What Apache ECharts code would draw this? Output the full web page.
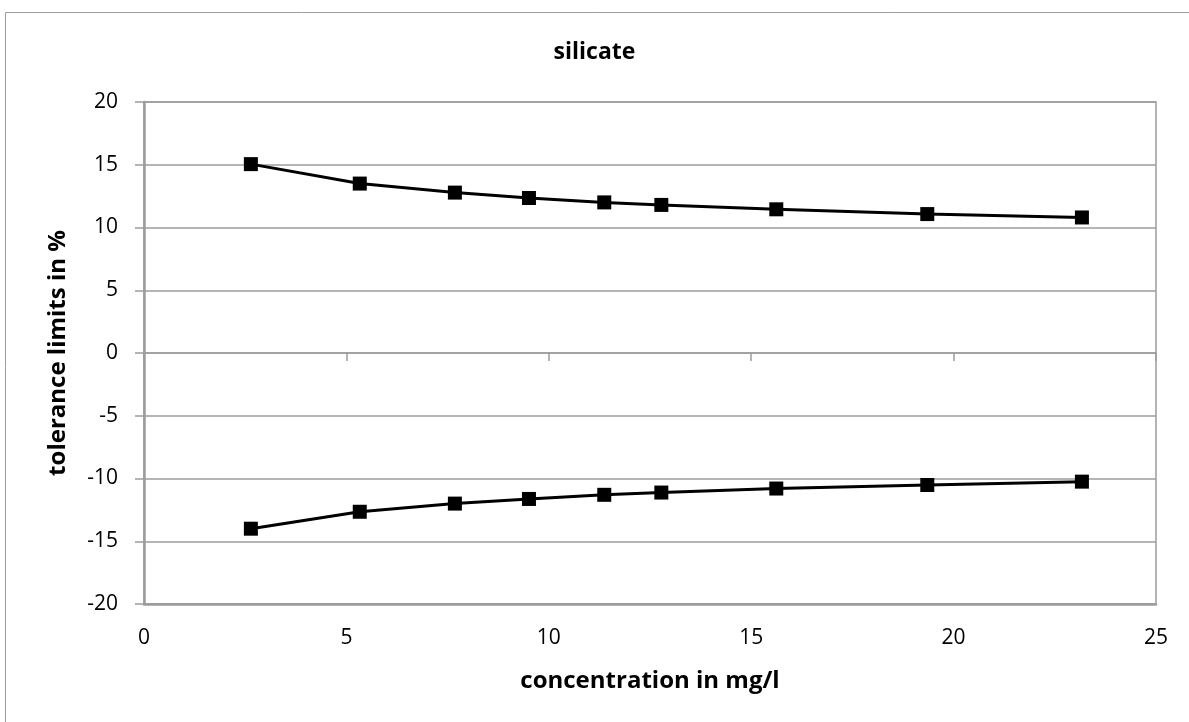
<!DOCTYPE html>
<html>
<head>
<meta charset="utf-8">
<script src="https://cdn.jsdelivr.net/npm/echarts@6/dist/echarts.min.js"></script>
<style>
html,body{margin:0;padding:0;background:#fff;}
#chart{width:1189px;height:722px;}
</style>
</head>
<body>
<div id="chart"></div>
<script>
// concentration (mg/l) and tolerance limits (%)
const conc = [2.64, 5.33, 7.68, 9.51, 11.37, 12.78, 15.62, 19.35, 23.17];
const upper = [15.05, 13.5, 12.78, 12.35, 12.0, 11.8, 11.45, 11.07, 10.8];
const lower = [-14.0, -12.65, -12.0, -11.63, -11.3, -11.12, -10.8, -10.52, -10.25];

const font = '"Open Sans", "Noto Sans", sans-serif';
const gray = '#9c9c9c';

const chart = echarts.init(document.getElementById('chart'));

function pairs(ys) {
  return conc.map(function (x, i) { return [x, ys[i]]; });
}

const option = {
  animation: false,
  backgroundColor: '#fff',
  title: {
    text: 'silicate',
    left: 'center', top: 36,
    textStyle: {fontFamily: font, fontSize: 23, fontWeight: 'bold', color: '#000'}
  },
  graphic: [{
    type: 'rect',
    shape: {x: 5.5, y: 12.5, width: 1200, height: 800},
    style: {fill: 'none', stroke: gray, lineWidth: 1},
    silent: true
  }],
  grid: {
    left: 144, top: 102, right: 33, bottom: 118,
    show: true, borderColor: gray, borderWidth: 1.5
  },
  xAxis: [{
    type: 'value', min: 0, max: 25, interval: 5,
    position: 'bottom',
    name: 'concentration in mg/l',
    nameLocation: 'middle', nameGap: 65,
    nameTextStyle: {fontFamily: font, fontSize: 24, fontWeight: 'bold', color: '#000'},
    axisLine: {onZero: false, lineStyle: {color: gray, width: 2.5}},
    axisTick: {show: false},
    axisLabel: {margin: 24, fontFamily: font, fontSize: 21, color: '#000'},
    splitLine: {show: false}
  }, {
    type: 'value', min: 0, max: 25, interval: 5,
    position: 'bottom',
    axisLine: {onZero: true, lineStyle: {color: gray, width: 1.5}},
    axisTick: {show: true, inside: false, length: 8, lineStyle: {color: gray, width: 1.5}},
    axisLabel: {show: false},
    splitLine: {show: false}
  }],
  yAxis: {
    type: 'value', min: -20, max: 20, interval: 5,
    name: 'tolerance limits in %',
    nameLocation: 'middle', nameGap: 74, nameRotate: 90,
    nameTextStyle: {fontFamily: font, fontSize: 24, fontWeight: 'bold', color: '#000'},
    axisLine: {show: true, lineStyle: {color: gray, width: 2.5}},
    axisTick: {show: true, length: 9, lineStyle: {color: gray, width: 1.5}},
    axisLabel: {margin: 26, fontFamily: font, fontSize: 21, color: '#000'},
    splitLine: {show: true, lineStyle: {color: gray, width: 1.5}}
  },
  series: [{
    name: 'upper', type: 'line', xAxisIndex: 0,
    data: pairs(upper),
    symbol: 'rect', symbolSize: 14,
    lineStyle: {color: '#000', width: 3},
    itemStyle: {color: '#000'}
  }, {
    name: 'lower', type: 'line', xAxisIndex: 0,
    data: pairs(lower),
    symbol: 'rect', symbolSize: 14,
    lineStyle: {color: '#000', width: 3},
    itemStyle: {color: '#000'}
  }]
};

chart.setOption(option);
</script>
</body>
</html>
